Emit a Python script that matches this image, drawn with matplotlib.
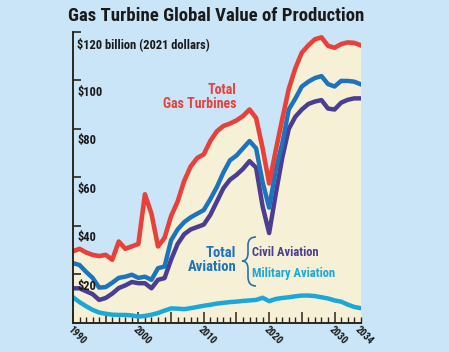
import matplotlib
matplotlib.use('Agg')
import matplotlib.pyplot as plt
from matplotlib.path import Path
from matplotlib.patches import PathPatch

# Data, billions of 2021 dollars
years = list(range(1990, 2035))

total_gas = [29.5, 30.5, 29, 28, 27.5, 28, 26, 33.5, 30.5, 31.5,
             32.5, 53, 45, 31.5, 35, 44, 50, 58.5, 64.5, 68,
             69.5, 75, 79, 81.2, 82.2, 83.5, 85.3, 88, 84.5, 72,
             57.5, 71, 84, 96.5, 105, 111.5, 114.5, 117, 117.8, 114.3,
             113.5, 115, 115.7, 115.5, 114.5]

total_aviation = [24.6, 23.8, 21, 18.5, 14.5, 14.7, 16.5, 18.5, 19, 19.8,
                  18.5, 19, 17.7, 22.5, 23.2, 34, 38.5, 41.5, 43.5, 45,
                  46.5, 51, 56, 62, 67, 69, 72, 75, 72, 58,
                  47.5, 63, 74, 88, 92.5, 97.5, 99.5, 101, 101.8, 98.5,
                  97.5, 99.8, 99.8, 99.5, 98.4]

civil = [14.2, 14.2, 13, 11.8, 9.4, 10.2, 12, 14.3, 15.4, 16.8,
         16.3, 16.3, 14.2, 17.7, 18.4, 26, 32.5, 36.5, 38.5, 39.5,
         40.5, 44.5, 50, 55.5, 59, 61, 63.5, 66.7, 64, 48,
         37, 53, 68, 80, 85, 88, 90.3, 91.3, 91.9, 88.4,
         88, 90.8, 92, 92.6, 92.6]

military = [10.5, 8.5, 6.8, 5.3, 4.2, 3.7, 3.3, 3.2, 3.2, 3,
            2.5, 2.8, 3.3, 4, 5, 5.9, 5.8, 5.6, 6, 6.5,
            7, 7.4, 7.9, 8.2, 8.5, 8.7, 9, 9.2, 9.4, 10.3,
            8.9, 9.8, 10.2, 10.5, 10.9, 11.2, 11.2, 11, 10.5, 10,
            9.2, 8.7, 7.5, 6.5, 6]

y_ticks = [0, 20, 40, 60, 80, 100, 120]
y_labels = ['', '$20', '$40', '$60', '$80', '$100', '$120 billion (2021 dollars)']
x_labels = [1990, 2000, 2010, 2020, 2030, 2034]

bg = '#c9e5f7'
cream = '#f6f0d6'
red = '#e8403a'
blue = '#1e73be'
purple = '#4b3d8f'
lightblue = '#1ba7d8'
dark = '#2b2620'

plt.rcParams['font.family'] = ['Roboto Condensed', 'Noto Sans Condensed',
                               'Liberation Sans Narrow', 'DejaVu Sans']

fig = plt.figure(figsize=(4.49, 3.52), dpi=100, facecolor=bg)
ax = fig.add_axes([73 / 449, 1 - 322.7 / 352, (360.7 - 73) / 449, (322.7 - 32) / 352])
ax.set_facecolor('none')

ax.fill_between(years, 0, total_gas, color=cream, lw=0, zorder=1)
ax.plot(years, military, color=lightblue, lw=3.2, solid_joinstyle='round', zorder=2)
ax.plot(years, civil, color=purple, lw=3.2, solid_joinstyle='round', zorder=2)
ax.plot(years, total_aviation, color=blue, lw=3.2, solid_joinstyle='round', zorder=2)
ax.plot(years, total_gas, color=red, lw=3.3, solid_joinstyle='round', zorder=2)

ax.set_xlim(1990, 2034)
ax.set_ylim(0, 120)
for s in ['top', 'right']:
    ax.spines[s].set_visible(False)
for s in ['left', 'bottom']:
    ax.spines[s].set_color(dark)
    ax.spines[s].set_linewidth(1.4)

ax.set_yticks(y_ticks)
ax.set_yticklabels([])
ax.tick_params(axis='y', direction='in', length=6, width=1.2, color=dark)
ax.set_xticks(list(range(1990, 2035, 5)))
ax.set_xticks(years, minor=True)
ax.set_xticklabels([])
ax.tick_params(axis='x', which='major', direction='in', length=8, width=1.1, color=dark)
ax.tick_params(axis='x', which='minor', direction='in', length=4.5, width=1.0, color=dark)

for v, lab in zip(y_ticks, y_labels):
    if lab:
        ax.annotate(lab, xy=(0, v), xycoords=('axes fraction', 'data'),
                    xytext=(3, -8.5), textcoords='offset points',
                    ha='left', va='center', fontsize=9, fontweight='bold',
                    color='#1a1a1a', zorder=5)

for yr in x_labels:
    ax.annotate(str(yr), xy=(yr, 0), xycoords=('data', 'axes fraction'),
                xytext=(0, -1.5), textcoords='offset points',
                ha='left', va='top', rotation=-45, rotation_mode='anchor',
                fontsize=7.5, fontweight='bold', color='#1a1a1a',
                annotation_clip=False)

fig.text(216 / 449, 1 - 16 / 352, 'Gas Turbine Global Value of Production',
         ha='center', va='center', fontsize=13.5, fontweight='heavy', color='#1a1a1a')

fig.text(236.5 / 449, 1 - 97 / 352, 'Total\nGas Turbines', ha='right', va='center',
         multialignment='right', linespacing=0.95,
         fontsize=10, fontweight='bold', color=red)
fig.text(236.5 / 449, 1 - 260 / 352, 'Total\nAviation', ha='right', va='center',
         multialignment='right', linespacing=0.95,
         fontsize=10.5, fontweight='bold', color=blue)
fig.text(252 / 449, 1 - 252 / 352, 'Civil Aviation', ha='left', va='center',
         fontsize=9, fontweight='bold', color=purple)
fig.text(252 / 449, 1 - 273 / 352, 'Military Aviation', ha='left', va='center',
         fontsize=9, fontweight='bold', color=lightblue)

# curly brace, figure pixel coords measured from the top
def px(x, y):
    return (x / 449, 1 - y / 352)

verts = [px(256, 237), px(248, 237), px(248, 245), px(248, 253),
         px(248, 261), px(242, 261), px(248, 261), px(248, 269),
         px(248, 277), px(248, 286), px(256, 286)]
codes = [Path.MOVETO, Path.CURVE3, Path.CURVE3, Path.LINETO,
         Path.CURVE3, Path.CURVE3, Path.CURVE3, Path.CURVE3,
         Path.LINETO, Path.CURVE3, Path.CURVE3]
brace = PathPatch(Path(verts, codes), transform=fig.transFigure,
                  fill=False, ec='#2a6fb0', lw=1.2)
fig.patches.append(brace)

fig.savefig('out.png', dpi=100, facecolor=bg)
